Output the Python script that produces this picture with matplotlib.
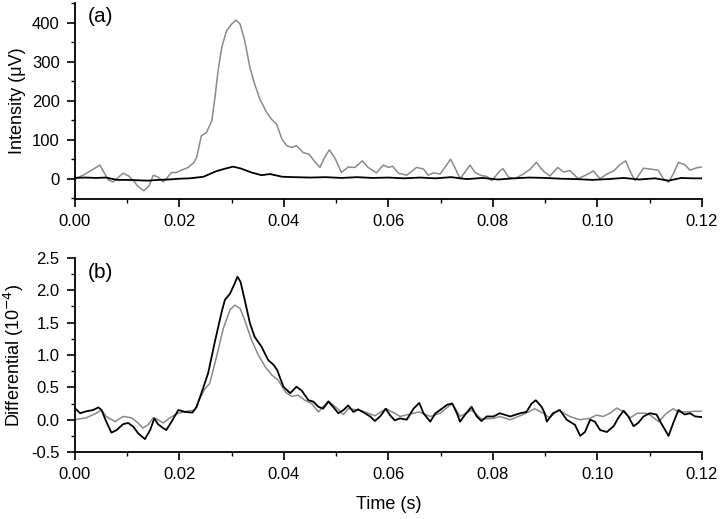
import numpy as np
import matplotlib.pyplot as plt
from matplotlib.ticker import MultipleLocator

# --- panel (a): intensity traces (t in s, values in uV) ---
t_a_grey = [0.0, 0.0016, 0.0032, 0.0048, 0.0054, 0.0064, 0.0073, 0.0083, 0.0092, 0.0102,
            0.0112, 0.0121, 0.0132, 0.0142, 0.0150, 0.0158, 0.0169, 0.0177, 0.0185, 0.0195,
            0.0204, 0.0217, 0.0228, 0.0233, 0.0242, 0.0252, 0.0262, 0.0268, 0.0274, 0.0281,
            0.0290, 0.0300, 0.0308, 0.0316, 0.0325, 0.0335, 0.0344, 0.0354, 0.0367, 0.0376,
            0.0386, 0.0396, 0.0405, 0.0415, 0.0424, 0.0437, 0.0448, 0.0459, 0.0469, 0.0478,
            0.0487, 0.0498, 0.0510, 0.0523, 0.0536, 0.0550, 0.0561, 0.0577, 0.0590, 0.0600,
            0.0608, 0.0619, 0.0635, 0.0654, 0.0667, 0.0676, 0.0686, 0.0699, 0.0708, 0.0719,
            0.0727, 0.0737, 0.0746, 0.0756, 0.0766, 0.0778, 0.0788, 0.0798, 0.0813, 0.0819,
            0.0830, 0.0842, 0.0858, 0.0871, 0.0883, 0.0896, 0.0909, 0.0924, 0.0935, 0.0947,
            0.0963, 0.0979, 0.0992, 0.1005, 0.1018, 0.1031, 0.1042, 0.1054, 0.1062, 0.1072,
            0.1088, 0.1100, 0.1116, 0.1126, 0.1136, 0.1145, 0.1155, 0.1167, 0.1177, 0.1190,
            0.1200]
v_a_grey = [0, 9, 22, 35, 20, -3, -8, 3, 14, 8,
            -5, -20, -31, -18, 9, 5, -8, 3, 16, 16,
            22, 29, 42, 55, 110, 119, 149, 208, 277, 337,
            379, 397, 407, 397, 354, 285, 243, 204, 170, 153,
            140, 102, 85, 80, 85, 67, 63, 44, 29, 55,
            74, 52, 16, 30, 29, 46, 29, 15, 35, 29,
            32, 14, 9, 29, 25, 9, 15, 12, 29, 50,
            29, 0, 16, 35, 16, 8, 6, -5, 20, 26,
            4, 0, 12, 24, 42, 20, 7, 29, 17, 21,
            0, 10, 20, 0, 12, 20, 35, 46, 20, -5,
            27, 25, 22, 0, -9, 12, 42, 36, 22, 28,
            30]

t_a_black = [0.0, 0.002, 0.004, 0.006, 0.008, 0.010, 0.012, 0.014, 0.016, 0.018,
             0.020, 0.022, 0.0246, 0.027, 0.0288, 0.0303, 0.0318, 0.0338, 0.0357, 0.0373,
             0.0397, 0.042, 0.045, 0.048, 0.051, 0.054, 0.057, 0.060, 0.063, 0.066,
             0.069, 0.072, 0.075, 0.078, 0.081, 0.084, 0.087, 0.090, 0.093, 0.096,
             0.099, 0.102, 0.105, 0.108, 0.111, 0.1136, 0.116, 0.118, 0.120]
v_a_black = [2, 3, 2, 3, -3, -3, -4, -5, -3, -2,
             0, 1, 5, 19, 26, 31, 26, 16, 9, 12,
             5, 4, 3, 4, 2, 4, 2, 3, 1, 3,
             1, 4, -1, 2, -2, 1, 3, 2, 0, -1,
             -3, -1, 2, -2, 1, -5, 2, 1, 1]

# --- panel (b): differential traces (units 1e-4) ---
t_b_black = [0.0, 0.0010, 0.0022, 0.0035, 0.0045, 0.0051, 0.0060, 0.0070, 0.0080, 0.0092,
             0.0102, 0.0112, 0.0121, 0.0134, 0.0144, 0.0152, 0.0159, 0.0169, 0.0175, 0.0185,
             0.0198, 0.0211, 0.0225, 0.0233, 0.0243, 0.0255, 0.0268, 0.0281, 0.0287, 0.0297,
             0.0306, 0.0311, 0.0317, 0.0325, 0.0335, 0.0344, 0.0357, 0.0370, 0.0380, 0.0387,
             0.0399, 0.0412, 0.0424, 0.0434, 0.0447, 0.0456, 0.0466, 0.0475, 0.0485, 0.0494,
             0.0504, 0.0514, 0.0523, 0.0533, 0.0542, 0.0555, 0.0565, 0.0574, 0.0584, 0.0595,
             0.0603, 0.0612, 0.0622, 0.0635, 0.0648, 0.0659, 0.0667, 0.0680, 0.0690, 0.0699,
             0.0712, 0.0722, 0.0731, 0.0737, 0.0746, 0.0759, 0.0769, 0.0778, 0.0788, 0.0801,
             0.0813, 0.0833, 0.0852, 0.0864, 0.0874, 0.0882, 0.0893, 0.0899, 0.0903, 0.0915,
             0.0928, 0.0941, 0.0957, 0.0967, 0.0976, 0.0986, 0.0995, 0.1005, 0.1018, 0.1031,
             0.1040, 0.1050, 0.1059, 0.1069, 0.1078, 0.1088, 0.1100, 0.1113, 0.1123, 0.1136,
             0.1145, 0.1155, 0.1167, 0.1177, 0.1187, 0.1200]
v_b_black = [0.18, 0.10, 0.13, 0.15, 0.19, 0.15, -0.03, -0.20, -0.16, -0.07,
             -0.05, -0.11, -0.21, -0.30, -0.16, 0.02, -0.07, -0.13, -0.16, -0.03,
             0.15, 0.12, 0.11, 0.20, 0.43, 0.72, 1.21, 1.67, 1.85, 1.95,
             2.11, 2.21, 2.13, 1.85, 1.49, 1.28, 1.13, 0.92, 0.85, 0.77,
             0.51, 0.41, 0.51, 0.45, 0.30, 0.28, 0.20, 0.17, 0.28, 0.20,
             0.10, 0.15, 0.22, 0.12, 0.16, 0.10, 0.05, -0.02, 0.05, 0.17,
             0.07, -0.01, 0.02, 0.00, 0.17, 0.26, 0.10, -0.03, 0.10, 0.15,
             0.23, 0.25, 0.10, -0.03, 0.07, 0.20, 0.05, -0.02, 0.05, 0.05,
             0.10, 0.05, 0.10, 0.12, 0.25, 0.30, 0.20, 0.10, -0.03, 0.10,
             0.15, 0.00, -0.08, -0.25, -0.19, 0.00, -0.03, -0.16, -0.19, -0.10,
             0.03, 0.14, 0.05, -0.10, -0.05, 0.05, 0.10, 0.08, -0.07, -0.25,
             -0.05, 0.15, 0.08, 0.10, 0.05, 0.04]

t_b_grey = [0.0, 0.0022, 0.0041, 0.0051, 0.0060, 0.0077, 0.0092, 0.0108, 0.0121, 0.0130,
            0.0140, 0.0150, 0.0159, 0.0169, 0.0182, 0.0194, 0.0214, 0.0230, 0.0239, 0.0249,
            0.0258, 0.0271, 0.0284, 0.0297, 0.0306, 0.0316, 0.0325, 0.0338, 0.0351, 0.0364,
            0.0377, 0.0389, 0.0404, 0.0415, 0.0427, 0.0440, 0.0453, 0.0466, 0.0485, 0.0501,
            0.0514, 0.0523, 0.0542, 0.0555, 0.0574, 0.0595, 0.0612, 0.0622, 0.0648, 0.0659,
            0.0680, 0.0699, 0.0722, 0.0737, 0.0759, 0.0778, 0.0801, 0.0813, 0.0833, 0.0858,
            0.0880, 0.0896, 0.0908, 0.0925, 0.0947, 0.0966, 0.0985, 0.0998, 0.1011, 0.1024,
            0.1037, 0.1050, 0.1063, 0.1076, 0.1092, 0.1101, 0.1117, 0.1132, 0.1145, 0.1155,
            0.1171, 0.1187, 0.1200]
v_b_grey = [0.00, 0.03, 0.10, 0.15, 0.05, -0.03, 0.05, 0.03, -0.05, -0.13,
            -0.08, 0.03, 0.00, -0.05, 0.03, 0.09, 0.13, 0.15, 0.33, 0.48,
            0.56, 0.97, 1.41, 1.70, 1.77, 1.72, 1.54, 1.23, 1.00, 0.82,
            0.69, 0.61, 0.42, 0.36, 0.38, 0.30, 0.25, 0.12, 0.29, 0.18,
            0.08, 0.17, 0.15, 0.12, 0.06, 0.17, 0.10, 0.05, 0.10, 0.12,
            0.05, 0.10, 0.25, 0.05, 0.15, 0.01, 0.02, 0.05, 0.00, 0.08,
            0.17, 0.10, 0.03, 0.15, 0.05, 0.00, 0.02, 0.07, 0.05, 0.10,
            0.18, 0.12, 0.03, 0.10, 0.10, 0.07, -0.03, 0.10, 0.17, 0.12,
            0.12, 0.13, 0.13]

plt.rcParams['font.family'] = ['Liberation Sans', 'DejaVu Sans']
plt.rcParams['font.size'] = 12

grey = '#8a8a8a'
fig = plt.figure(figsize=(7.2, 5.19), dpi=100)
ax_a = fig.add_axes([0.104, 0.6166, 0.871, 0.377])
ax_b = fig.add_axes([0.104, 0.129, 0.871, 0.374])

ax_a.plot(t_a_grey, v_a_grey, color=grey, lw=1.1)
ax_a.plot(t_a_black, v_a_black, color='black', lw=1.3)
ax_a.set_ylim(-52, 450)
ax_a.set_yticks([0, 100, 200, 300, 400])
ax_a.yaxis.set_minor_locator(MultipleLocator(50))
ax_a.set_ylabel('Intensity (\u03bcV)', fontsize=13, labelpad=4)
ax_a.text(0.02, 0.935, '(a)', transform=ax_a.transAxes, fontsize=15, va='center')

ax_b.plot(t_b_grey, v_b_grey, color=grey, lw=1.1)
ax_b.plot(t_b_black, v_b_black, color='black', lw=1.3)
ax_b.set_ylim(-0.5, 2.5)
ax_b.set_yticks([-0.5, 0.0, 0.5, 1.0, 1.5, 2.0, 2.5])
ax_b.yaxis.set_minor_locator(MultipleLocator(0.25))
ax_b.set_ylabel('Differential (10$^{-4}$)', fontsize=13, labelpad=4)
ax_b.set_xlabel('Time (s)', fontsize=13, labelpad=10)
ax_b.text(0.02, 0.925, '(b)', transform=ax_b.transAxes, fontsize=15, va='center')
ax_b.yaxis.set_major_formatter(plt.FormatStrFormatter('%.1f'))

for ax in (ax_a, ax_b):
    ax.set_xlim(0, 0.12)
    ax.set_xticks([0.0, 0.02, 0.04, 0.06, 0.08, 0.10, 0.12])
    ax.xaxis.set_major_formatter(plt.FormatStrFormatter('%.2f'))
    ax.xaxis.set_minor_locator(MultipleLocator(0.01))
    ax.spines['top'].set_visible(False)
    ax.spines['right'].set_visible(False)
    ax.spines['left'].set_linewidth(1.3)
    ax.spines['bottom'].set_linewidth(1.3)
    ax.tick_params(which='major', length=6, width=1.2, pad=5)
    ax.tick_params(which='minor', length=3, width=1.0)

fig.savefig('out.png', dpi=100)
